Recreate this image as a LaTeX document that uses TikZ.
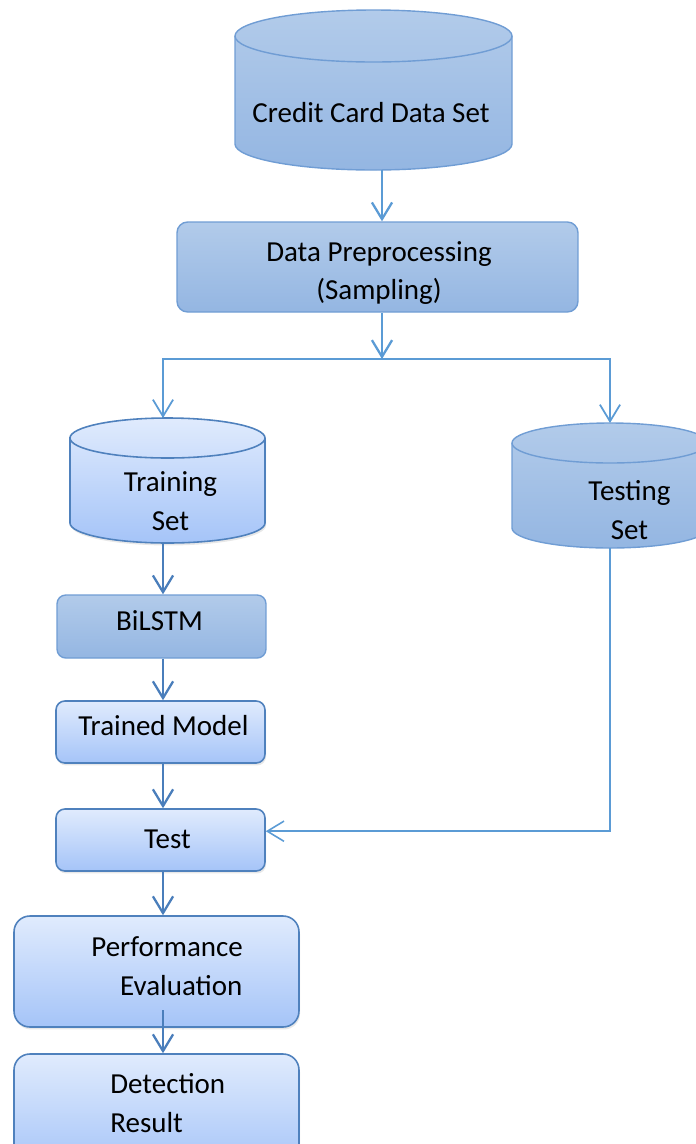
\documentclass[tikz,border=0pt]{standalone}
\usepackage{fontspec}
\setmainfont{Carlito}
\usetikzlibrary{arrows.meta,shadows}

\definecolor{midtop}{RGB}{178,203,234}
\definecolor{midbot}{RGB}{148,182,226}
\definecolor{midline}{RGB}{112,157,212}
\definecolor{lighttop}{RGB}{224,235,253}
\definecolor{lightbot}{RGB}{165,196,248}
\definecolor{lightline}{RGB}{79,129,189}
\definecolor{arrtop}{RGB}{91,155,213}
\definecolor{arrlow}{RGB}{74,126,187}

\begin{document}
\begin{tikzpicture}[x=0.02cm, y=-0.02cm,
    every node/.style={font=\fontsize{16.5}{22}\selectfont},
    midbox/.style={draw=midline, line width=0.8pt, rounded corners=5pt, top color=midtop, bottom color=midbot},
    lightbox/.style={draw=lightline, line width=0.9pt, rounded corners=5pt, top color=lighttop, bottom color=lightbot,
        drop shadow={opacity=0.18, shadow xshift=0.6pt, shadow yshift=-1.4pt}},
    midcyl/.style={draw=midline, line width=0.8pt, top color=midtop, bottom color=midbot},
    lightcyl/.style={draw=lightline, line width=0.9pt, top color=lighttop, bottom color=lightbot,
        drop shadow={opacity=0.18, shadow xshift=0.6pt, shadow yshift=-1.4pt}},
    hold/.style={inner sep=0pt, outer sep=0pt},
    txt/.style={inner sep=0pt, align=center},
    arr/.style={-{Straight Barb[length=9.5pt,width=11.5pt]}, line width=1.3pt, draw=#1},
    arr/.default=arrlow]
    \useasboundingbox (0,0) rectangle (696,1144);

    % Credit card data set
    \path[midcyl] (235,36) -- (235,144) arc[start angle=180, end angle=0, x radius=138.5, y radius=26]
        -- (512,36) arc[start angle=0, end angle=-180, x radius=138.5, y radius=26] -- cycle;
    \draw[midline, line width=0.8pt] (235,36) arc[start angle=180, end angle=0, x radius=138.5, y radius=26];
    \node[hold, minimum width=5.54cm, minimum height=3.2cm] (credit) at (373.5,90) {};
    \node[txt] (credit-t) at (371,113) {Credit Card Data Set};

    % Preprocessing
    \node[midbox, rounded corners=6pt, minimum width=8.02cm, minimum height=1.8cm] (pre) at (377.5,267) {};
    \node[txt] (pre-t) at (379,273) {Data Preprocessing\\(Sampling)};

    % Training set
    \path[lightcyl] (70,438) -- (70,523) arc[start angle=180, end angle=0, x radius=97.5, y radius=20]
        -- (265,438) arc[start angle=0, end angle=-180, x radius=97.5, y radius=20] -- cycle;
    \draw[lightline, line width=0.9pt] (70,438) arc[start angle=180, end angle=0, x radius=97.5, y radius=20];
    \node[hold, minimum width=3.9cm, minimum height=2.5cm] (train) at (167.5,480.5) {};
    \node[txt] (train-t) at (170.5,501) {Training\\Set};

    % Testing set
    \path[midcyl] (512,443) -- (512,528) arc[start angle=180, end angle=0, x radius=98, y radius=20]
        -- (708,443) arc[start angle=0, end angle=-180, x radius=98, y radius=20] -- cycle;
    \draw[midline, line width=0.8pt] (512,443) arc[start angle=180, end angle=0, x radius=98, y radius=20];
    \node[hold, minimum width=3.92cm, minimum height=2.5cm] (testset) at (610,485.5) {};
    \node[txt] (testset-t) at (629.5,510) {Testing\\Set};

    % Left column
    \node[midbox, minimum width=4.18cm, minimum height=1.26cm] (bilstm) at (161.5,626.5) {};
    \node[txt] (bilstm-t) at (159.5,621) {BiLSTM};
    \node[lightbox, minimum width=4.18cm, minimum height=1.24cm] (trained) at (160.5,732) {};
    \node[txt] (trained-t) at (163.5,726) {Trained Model};
    \node[lightbox, minimum width=4.18cm, minimum height=1.24cm] (test) at (160.5,840) {};
    \node[txt] (test-t) at (167.5,839) {Test};
    \node[lightbox, rounded corners=9pt, minimum width=5.7cm, minimum height=2.22cm] (perf) at (156.5,971.5) {};
    \node[txt, anchor=west, align=left] (perf-t) at (91,966) {Performance\\\hspace*{16.4pt}Evaluation};
    \node[lightbox, rounded corners=9pt, minimum width=5.7cm, minimum height=2.32cm] (detect) at (156.5,1112) {};
    \node[txt, anchor=west, align=left] (detect-t) at (110,1103) {Detection\\Result};

    % Connectors
    \coordinate (split) at (382,359);
    \coordinate (lane) at (163,0);
    \coordinate (perfin) at (163,1010);
    \draw[arr=arrtop] (credit.south -| split) -- (pre.north -| split);
    \draw[arr=arrtop] (pre.south -| split) -- (split);
    \draw[arr=arrtop, line width=1pt] (split) -| (train.north -| lane);
    \draw[arr=arrtop, line width=1pt] (split) -| (testset.north);
    \draw[arr] (train.south -| lane) -- (bilstm.north -| lane);
    \draw[arr] (bilstm.south -| lane) -- (trained.north -| lane);
    \draw[arr] (trained.south -| lane) -- (test.north -| lane);
    \draw[arr] (test.south -| lane) -- (perf.north -| lane);
    \draw[arr] (perfin) -- (detect.north -| lane);
    \draw[arr=arrtop, line width=0.9pt] (testset.south) |- ([yshift=5pt]test.east);
\end{tikzpicture}
\end{document}
